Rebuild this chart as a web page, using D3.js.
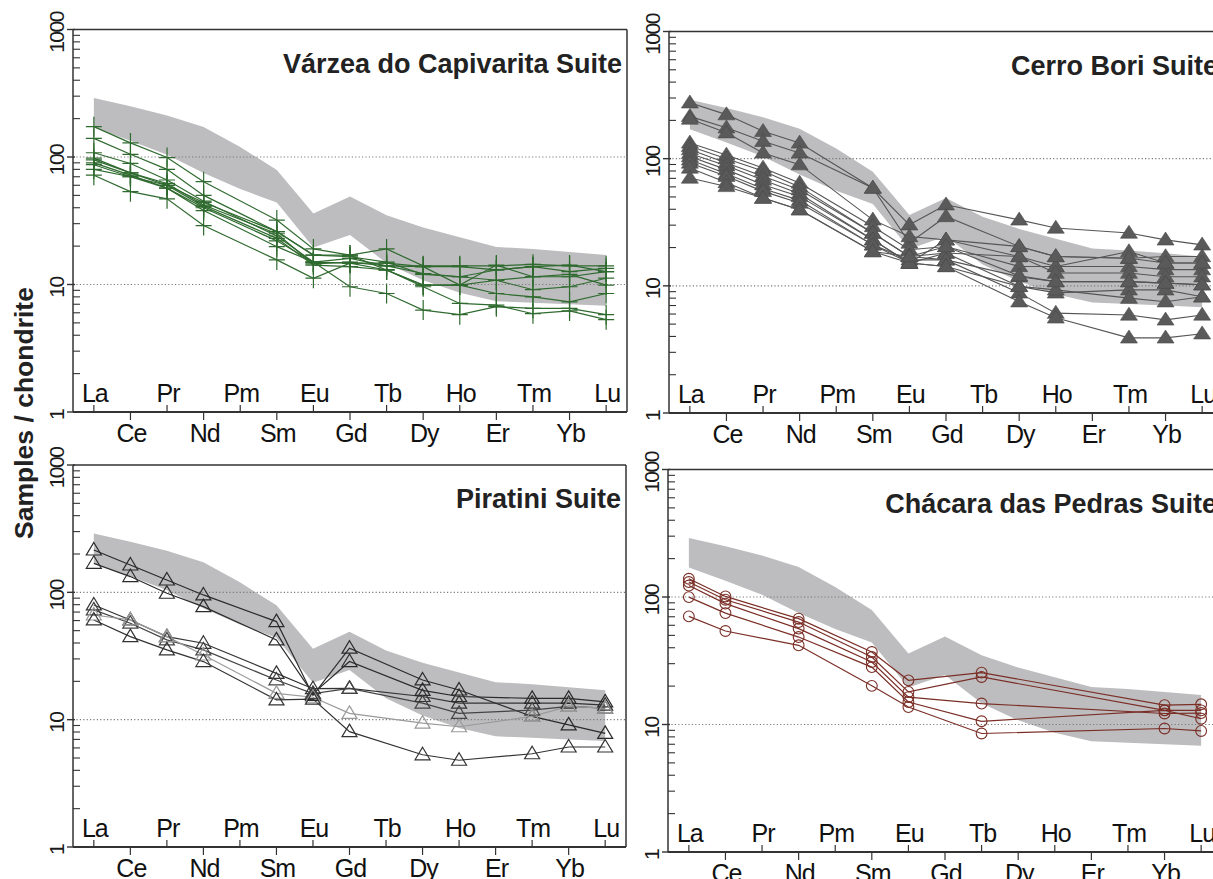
<!DOCTYPE html>
<html>
<head>
<meta charset="utf-8">
<script src="https://cdn.jsdelivr.net/npm/d3@7"></script>
<style>
  html, body { margin: 0; padding: 0; background: #ffffff; }
  svg { display: block; }
  text { font-family: "Liberation Sans", Arial, sans-serif; }
</style>
</head>
<body>
<svg id="chart" width="1213" height="879"></svg>
<script>
// ---------- DATA ----------
const elements = ["La","Ce","Pr","Nd","Pm","Sm","Eu","Gd","Tb","Dy","Ho","Er","Tm","Yb","Lu"];
const yTickValues = [1, 10, 100, 1000];
const yTickLabels = ["1", "10", "100", "1000"];
const gridValues = [10, 100];
const panelTitles = ["Várzea do Capivarita Suite", "Cerro Bori Suite", "Piratini Suite", "Chácara das Pedras Suite"];
const yAxisTitle = "Samples / chondrite";

// reference envelope (grey band), per element
const bandUpper = [290, 250, 212, 172, 120, 79, 36, 49, 35, 28, 23.5, 19.7, 19, 18, 17];
const bandLower = [170, 134, 104, 75, 56, 44, 19.5, 24.5, 14.7, 10.8, 8.6, 7.4, 7.2, 7.0, 6.8];

// Várzea do Capivarita Suite
const varzea = [
  [173,129,99,64,null,32,19,17,19,14,14,14,14.4,14,14],
  [140,105,80,50,null,26,17,16.5,15,12,11.5,13,13.8,12.6,13.4],
  [108,89,66,45,null,24,15,14.7,14.7,13.8,9.9,14.2,11.5,11.5,12.6],
  [95,75,60,41,null,23,14.2,13.8,13,9.9,9.9,10.8,9.1,9.6,11.2],
  [90,72,57,40,null,22,15,16,14,12.2,11.5,10.8,11.5,12,9.9],
  [87,70,57,38,null,19.8,15,9.6,8.5,6.3,5.8,6.7,6.5,6.5,5.8],
  [72,53.5,47,29,null,15.6,11.2,14.7,13,9.6,7.1,6.9,5.9,6.2,5.3],
  [80,70,60,44,null,26,17,17,13,9.9,9.9,8.5,8,7.3,8.5],
  [98,75,62,42,null,25,14.5,15,14,13.8,13.8,13,13.8,14.2,12.6]
];

// Cerro Bori Suite
const cerroBori = [
  [275,222,164,133,null,58.8,30.2,43.4,null,33,28.5,null,26,23,21],
  [215,175,137,111,null,58.8,21.7,35.1,null,20.4,17,null,16.5,17,17],
  [205,160,111,89.7,null,33,24.4,23,null,17,14.2,null,18.6,15.1,15.1],
  [133,107,84.5,64.4,null,29.3,19.2,20.4,null,14.2,14.2,null,14.2,13.4,13.4],
  [125,100,80,60,null,26,17,18.1,null,17,12.6,null,12.6,11.8,11.8],
  [118,92.5,72.6,57,null,26,17,16,null,11.8,10.8,null,10.8,10.5,10.2],
  [110,88,68,53,null,23,15.1,23,null,20.4,17,null,16.5,15.1,15.1],
  [104,82,62.4,50.5,null,23,15.1,18.1,null,9.9,8.8,null,9.3,9.3,8.2],
  [98,76,58,47,null,21,16,16,null,8.8,6.1,null,5.9,5.4,5.9],
  [92.5,72.6,55.3,44.8,null,21,15.1,14.2,null,7.5,5.6,null,3.9,3.9,4.2],
  [84.5,65,49,39.7,null,18.6,15.1,14.2,null,9.9,9.3,null,8,7.5,8.2],
  [70.5,60.5,49,39.7,null,18.6,17,20.4,null,12,10.8,null,10.8,10.5,10.2]
];

// Piratini Suite
const piratini = [
  [215,164,125,95.4,null,58.9,15.5,36.4,null,20.5,17.1,null,10.6,9.1,7.8],
  [169,133,98.4,77.2,null,42.3,16,28.6,null,17,15.2,null,14.7,14.7,13.8],
  [79.6,60.7,44.9,39.8,null,23.1,17.5,17.6,null,15.2,13.5,null,13.5,13.5,13.0],
  [72.8,57.2,42.3,35.3,null,20.5,16,17.6,null,13.5,11.2,null,11.9,12.7,12.3],
  [66.4,60.7,44.9,32.2,null,16.1,15,11.2,null,9.4,8.8,null,10.6,12.7,12.3],
  [60.7,44.9,35.3,28.6,null,14.3,14.5,8.05,null,5.3,4.8,null,5.4,6.1,6.1]
];
const piratiniShade = ["#2a2a2a","#2a2a2a","#333333","#444444","#9a9a9a","#333333"];

// Chácara das Pedras Suite
const chacara = [
  [139,101,null,67.6,null,37,22.2,null,25.5,null,null,null,null,14.2,14.4],
  [131,95.2,null,63.6,null,33.8,18,null,23.6,null,null,null,null,12.9,12.9],
  [123,88.7,null,56.5,null,30.9,16.4,null,14.6,null,null,null,null,12.2,12.3],
  [99.8,74.8,null,48.5,null,28.2,15,null,10.6,null,null,null,null,12.9,11.1],
  [70.5,54.1,null,41.8,null,20.1,13.7,null,8.5,null,null,null,null,9.3,8.9]
];

// ---------- DRAW ----------
const svg = d3.select("#chart");
svg.append("rect").attr("width", 1213).attr("height", 879).attr("fill", "#ffffff");

const panels = [
  { left: 73,  right: 627,  top: 29.5, bottom: 412, data: varzea,    marker: "plus",   color: "#2f6a2f", title: panelTitles[0] },
  { left: 669, right: 1223, top: 31.5, bottom: 413, data: cerroBori, marker: "tri",    color: "#555555", title: panelTitles[1] },
  { left: 73,  right: 626,  top: 465,  bottom: 847, data: piratini,  marker: "otri",   color: "#2a2a2a", title: panelTitles[2] },
  { left: 668, right: 1222, top: 469.5,bottom: 852, data: chacara,   marker: "circle", color: "#7a2e26", title: panelTitles[3] }
];

const axisColor = "#333333";

panels.forEach((p, pi) => {
  const g = svg.append("g");
  const x = d3.scaleLinear().domain([-0.57, 14.57]).range([p.left, p.right]);
  const y = d3.scaleLog().domain([1, 1000]).range([p.bottom, p.top]);

  // band
  const bandPts = elements.map((e, i) => ({ i, u: bandUpper[i], l: bandLower[i] }));
  const area = d3.area().x(d => x(d.i)).y0(d => y(d.l)).y1(d => y(d.u));
  g.append("path").attr("d", area(bandPts)).attr("fill", "#bdbdbf").attr("stroke", "none");

  // grid
  gridValues.forEach(v => {
    g.append("line").attr("x1", p.left).attr("x2", p.right)
      .attr("y1", y(v)).attr("y2", y(v))
      .attr("stroke", "#7a7a7a").attr("stroke-width", 1.1)
      .attr("stroke-dasharray", "1.2,2.2");
  });

  // lines
  const line = d3.line().x(d => x(d.i)).y(d => y(d.v));
  p.data.forEach((s, si) => {
    const pts = s.map((v, i) => ({ i, v })).filter(d => d.v !== null);
    let col = p.color;
    if (pi === 2) col = piratiniShade[si];
    g.append("path").attr("d", line(pts)).attr("fill", "none")
      .attr("stroke", col).attr("stroke-width", pi === 1 ? 1.1 : 1.2);
  });

  // markers
  p.data.forEach((s, si) => {
    const pts = s.map((v, i) => ({ i, v })).filter(d => d.v !== null);
    let col = p.color;
    if (pi === 2) col = piratiniShade[si];
    pts.forEach(d => {
      const cx = x(d.i), cy = y(d.v);
      if (p.marker === "plus") {
        g.append("path").attr("d", `M${cx-8},${cy}H${cx+8}M${cx},${cy-10}V${cy+10}`)
          .attr("stroke", col).attr("stroke-width", 1.2).attr("fill", "none");
      } else if (p.marker === "tri") {
        const w = 8.5, h = 13;
        g.append("path").attr("d", `M${cx},${cy-h*0.6}L${cx+w},${cy+h*0.4}L${cx-w},${cy+h*0.4}Z`)
          .attr("fill", "#5a5a5a").attr("stroke", "#4a4a4a").attr("stroke-width", 0.6);
      } else if (p.marker === "otri") {
        const w = 7.5, h = 12.5;
        g.append("path").attr("d", `M${cx},${cy-h*0.6}L${cx+w},${cy+h*0.4}L${cx-w},${cy+h*0.4}Z`)
          .attr("fill", "none").attr("stroke", col).attr("stroke-width", 1.2);
      } else {
        g.append("circle").attr("cx", cx).attr("cy", cy).attr("r", 5.4)
          .attr("fill", "none").attr("stroke", col).attr("stroke-width", 1.1);
      }
    });
  });

  // frame: top & right lines, left axis, bottom axis
  g.append("line").attr("x1", p.left).attr("x2", p.right).attr("y1", p.top).attr("y2", p.top)
    .attr("stroke", axisColor).attr("stroke-width", 1.5);
  g.append("line").attr("x1", p.right).attr("x2", p.right).attr("y1", p.top).attr("y2", p.bottom)
    .attr("stroke", axisColor).attr("stroke-width", 1.5);
  g.append("line").attr("x1", p.left).attr("x2", p.left).attr("y1", p.top).attr("y2", p.bottom)
    .attr("stroke", axisColor).attr("stroke-width", 1.5);
  g.append("line").attr("x1", p.left).attr("x2", p.right).attr("y1", p.bottom).attr("y2", p.bottom)
    .attr("stroke", axisColor).attr("stroke-width", 1.8);

  // y ticks
  yTickValues.forEach((v, k) => {
    g.append("line").attr("x1", p.left - 6).attr("x2", p.left + 2)
      .attr("y1", y(v)).attr("y2", y(v)).attr("stroke", axisColor).attr("stroke-width", 1.4);
    g.append("text")
      .attr("transform", `translate(${p.left - 9},${y(v) + 3}) rotate(-90)`)
      .attr("text-anchor", "middle")
      .attr("font-size", 21).attr("letter-spacing", "-1.5px")
      .attr("fill", "#1a1a1a")
      .text(yTickLabels[k]);
  });
  [1, 10, 100].forEach(dec => {
    for (let m = 2; m <= 9; m++) {
      const v = dec * m;
      g.append("line").attr("x1", p.left).attr("x2", p.left + 7)
        .attr("y1", y(v)).attr("y2", y(v)).attr("stroke", axisColor).attr("stroke-width", 1.1);
    }
  });

  // x ticks & labels
  elements.forEach((e, i) => {
    const up = i % 2 === 0;
    g.append("line").attr("x1", x(i)).attr("x2", x(i))
      .attr("y1", p.bottom).attr("y2", up ? p.bottom - 7 : p.bottom + 8)
      .attr("stroke", axisColor).attr("stroke-width", 1.2);
    g.append("text").attr("x", x(i) + 1).attr("y", up ? p.bottom - 10 : p.bottom + 30)
      .attr("text-anchor", "middle").attr("font-size", 25).attr("letter-spacing", "-1px")
      .attr("fill", "#111111")
      .text(e);
  });

  // title
  g.append("text").attr("x", p.right - 5).attr("y", p.top + 43)
    .attr("text-anchor", "end").attr("font-size", 27).attr("font-weight", "bold")
    .attr("fill", "#222222")
    .text(p.title);
});

// y axis title
svg.append("text")
  .attr("transform", "translate(33,413) rotate(-90)")
  .attr("text-anchor", "middle").attr("font-size", 26.5).attr("font-weight", "bold")
  .attr("fill", "#222222")
  .text(yAxisTitle);
</script>
</body>
</html>
